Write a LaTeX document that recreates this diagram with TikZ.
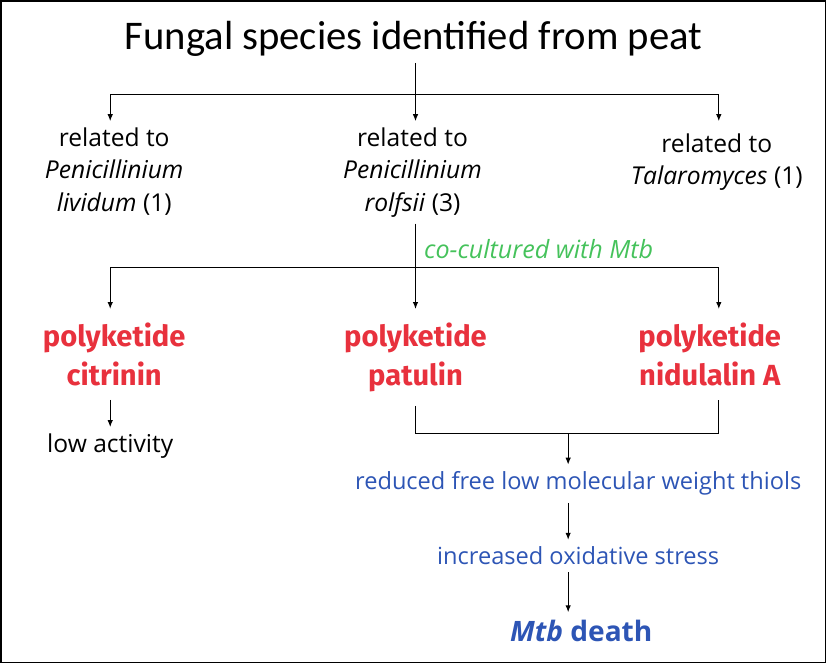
\documentclass[tikz,border=0pt]{standalone}
\usepackage{fontspec}
\setmainfont{Open Sans}
\newfontfamily\carlito{Carlito}
\newfontfamily\firasans{Fira Sans}
\usetikzlibrary{arrows.meta}
\definecolor{pkred}{HTML}{E8313D}
\definecolor{cogreen}{HTML}{45C25B}
\definecolor{fxblue}{HTML}{2D55B5}

\begin{document}
\begin{tikzpicture}[x=1pt, y=-1pt]
    \tikzstyle{EdgeStyle}=[-{Latex[length=7pt, width=5.5pt]}, line width=1.2pt]
    \tikzstyle{LineStyle}=[line width=1.2pt]
    \tikzstyle{RelStyle}=[anchor=north, align=center, inner xsep=4pt, inner ysep=6pt, font=\fontsize{24.5}{32.5}\selectfont]
    \tikzstyle{PkStyle}=[anchor=north, align=center, inner xsep=6pt, inner ysep=14pt, text=pkred, font=\firasans\bfseries\fontsize{29}{38}\selectfont]
    \tikzstyle{FxStyle}=[inner sep=7pt, text=fxblue, font=\fontsize{23.5}{28}\selectfont]
    % frame
    \draw[line width=1.5pt] (2,2) rectangle (823,661);
    % species
    \node[inner sep=6pt, font=\carlito\fontsize{40.5}{46}\selectfont] (title) at (413,40) {Fungal species identified from peat};
    \node[RelStyle] (relA) at (115,122) {related to\\ \textit{Penicillinium}\\ \textit{lividum} (1)};
    \node[RelStyle] (relB) at (412,122) {related to\\ \textit{Penicillinium}\\ \textit{rolfsii} (3)};
    \node[RelStyle, inner ysep=12pt] (relC) at (715,122) {related to\\ \textit{Talaromyces} (1)};
    \coordinate (splitA) at (111,95);
    \coordinate (splitB) at (415,95);
    \coordinate (splitC) at (717,95);
    \draw[LineStyle] (splitA) -- (splitC);
    \draw[EdgeStyle] (title.south -| splitB) -- (splitB |- relB.north);
    \draw[EdgeStyle] (splitA) -- (splitA |- relA.north);
    \draw[EdgeStyle] (splitC) -- (splitC |- relC.north);
    % polyketides
    \node[PkStyle] (pkA) at (115,309) {polyketide\\ citrinin};
    \node[PkStyle] (pkB) at (415,309) {polyketide\\ patulin};
    \node[PkStyle] (pkC) at (708,309) {polyketide\\ nidulalin A};
    \coordinate (cultA) at (111,268);
    \coordinate (cultB) at (415,268);
    \coordinate (cultC) at (717,268);
    \draw[LineStyle] (cultA) -- (cultC);
    \draw[EdgeStyle] (relB.south -| cultB) -- (cultB |- pkB.north)
        node[pos=0.3, right, inner sep=8pt, text=cogreen, font=\itshape\fontsize{25}{30}\selectfont] {co-cultured with Mtb};
    \draw[EdgeStyle] (cultA) -- (cultA |- pkA.north);
    \draw[EdgeStyle] (cultC) -- (cultC |- pkC.north);
    % outcomes
    \node[inner sep=6pt, font=\fontsize{24.5}{28}\selectfont] (low) at (111,445) {low activity};
    \draw[EdgeStyle] (pkA.south -| cultA) -- (low);
    \coordinate (joinB) at (415,433);
    \coordinate (joinC) at (717,433);
    \coordinate (joinM) at (567,433);
    \draw[LineStyle] (pkB.south -| joinB) -- (joinB) -- (joinC) -- (pkC.south -| joinC);
    \node[FxStyle] (thiol) at (577,483) {reduced free low molecular weight thiols};
    \node[FxStyle] (stress) at (577,555) {increased oxidative stress};
    \node[inner sep=8pt, text=fxblue, font=\bfseries\fontsize{28}{32}\selectfont] (death) at (580,630) {\textit{Mtb} death};
    \draw[EdgeStyle] (joinM) -- (joinM |- thiol.north);
    \draw[EdgeStyle] (thiol.south -| joinM) -- (joinM |- stress.north);
    \draw[EdgeStyle] (stress.south -| joinM) -- (joinM |- death.north);
\end{tikzpicture}
\end{document}
